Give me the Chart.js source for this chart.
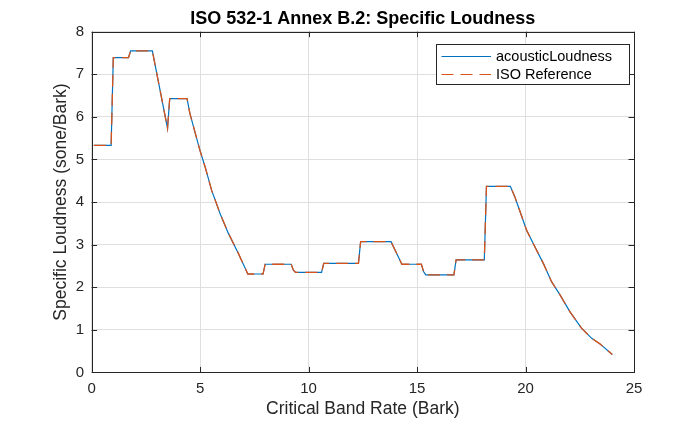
<!DOCTYPE html>
<html><head><meta charset="utf-8">
<script src="https://cdn.jsdelivr.net/npm/chart.js@4/dist/chart.umd.min.js"></script>
<style>html,body{margin:0;padding:0;background:#fff}</style>
</head><body>
<canvas id="c" width="700" height="421"></canvas>
<script>
// ---- data ----
const barkValues = [0.1, 0.9, 1.0, 1.7, 1.8, 2.8, 3.5, 3.6, 4.4, 4.53, 4.99, 5.23, 5.53, 5.92, 6.30, 6.76, 7.2, 7.9, 8.0, 9.2, 9.3, 9.4, 10.6, 10.7, 12.3, 12.4, 13.8, 14.3, 15.2, 15.3, 15.4, 16.7, 16.8, 18.1, 18.2, 19.3, 19.51, 20.05, 20.43, 20.82, 21.20, 21.59, 22.05, 22.58, 23.05, 23.43, 24.0];
const acousticLoudness = [5.33, 5.33, 7.39, 7.39, 7.55, 7.55, 5.73, 6.43, 6.43, 6.08, 5.22, 4.83, 4.28, 3.73, 3.27, 2.80, 2.31, 2.31, 2.54, 2.54, 2.40, 2.35, 2.35, 2.56, 2.56, 3.07, 3.07, 2.54, 2.54, 2.37, 2.29, 2.29, 2.64, 2.64, 4.37, 4.37, 4.12, 3.34, 2.95, 2.56, 2.13, 1.82, 1.42, 1.04, 0.80, 0.67, 0.42];
const isoReference = [5.33, 5.33, 7.39, 7.39, 7.55, 7.55, 5.73, 6.43, 6.43, 6.08, 5.22, 4.83, 4.28, 3.73, 3.27, 2.80, 2.31, 2.31, 2.54, 2.54, 2.40, 2.35, 2.35, 2.56, 2.56, 3.07, 3.07, 2.54, 2.54, 2.37, 2.29, 2.29, 2.64, 2.64, 4.37, 4.37, 4.12, 3.34, 2.95, 2.56, 2.13, 1.82, 1.42, 1.04, 0.80, 0.67, 0.42];
const xTickValues = [0, 5, 10, 15, 20, 25];
const yTickValues = [0, 1, 2, 3, 4, 5, 6, 7, 8];
const seriesNames = ['acousticLoudness', 'ISO Reference'];
const titleText = 'ISO 532-1 Annex B.2: Specific Loudness';
const xLabel = 'Critical Band Rate (Bark)';
const yLabel = 'Specific Loudness (sone/Bark)';

const FONT = '"Liberation Sans", Arial, Helvetica, sans-serif';
const AXC = '#262626';
const BLUE = '#0072BD', ORANGE = '#D95319';

const toPts = (ys) => barkValues.map((x, i) => ({x, y: ys[i]}));

const matlabDecor = {
  id: 'matlabDecor',
  beforeDatasetsDraw(chart) {
    const {ctx, chartArea: a, scales: {x, y}} = chart;
    ctx.save();
    ctx.strokeStyle = AXC; ctx.lineWidth = 1;
    const L = 5.5;
    ctx.beginPath();
    xTickValues.forEach(v => {
      const px = Math.round(x.getPixelForValue(v)) + 0.5;
      ctx.moveTo(px, a.bottom); ctx.lineTo(px, a.bottom - L);
      ctx.moveTo(px, a.top); ctx.lineTo(px, a.top + L);
    });
    yTickValues.forEach(v => {
      const py = Math.round(y.getPixelForValue(v)) + 0.5;
      ctx.moveTo(a.left, py); ctx.lineTo(a.left + L, py);
      ctx.moveTo(a.right, py); ctx.lineTo(a.right - L, py);
    });
    ctx.stroke();
    ctx.restore();
  },
  afterDraw(chart) {
    const {ctx, chartArea: a} = chart;
    ctx.save();
    // box
    ctx.strokeStyle = AXC; ctx.lineWidth = 1;
    ctx.strokeRect(Math.round(a.left) + 0.5, Math.round(a.top) + 0.5,
                   Math.round(a.right) - Math.round(a.left), Math.round(a.bottom) - Math.round(a.top));
    // title
    ctx.fillStyle = '#000';
    ctx.font = 'bold 18px ' + FONT;
    ctx.textAlign = 'center'; ctx.textBaseline = 'alphabetic';
    ctx.fillText(titleText, (a.left + a.right) / 2, 24);
    // legend
    const bx = 436.5, by = 44.5, bw = 193, bh = 40;
    ctx.fillStyle = '#fff';
    ctx.fillRect(bx, by, bw, bh);
    ctx.strokeStyle = AXC;
    ctx.strokeRect(bx, by, bw, bh);
    const rows = [56.5, 74.5];
    chart.data.datasets.forEach((ds, i) => {
      ctx.strokeStyle = ds.borderColor; ctx.lineWidth = 1;
      ctx.setLineDash(ds.borderDash || []);
      ctx.beginPath(); ctx.moveTo(441.5, rows[i]); ctx.lineTo(491, rows[i]); ctx.stroke();
      ctx.setLineDash([]);
      ctx.fillStyle = '#000';
      ctx.font = '14.5px ' + FONT;
      ctx.textAlign = 'left'; ctx.textBaseline = 'alphabetic';
      ctx.fillText(ds.label, 496, rows[i] + 4.8);
    });
    ctx.restore();
  }
};

new Chart(document.getElementById('c'), {
  type: 'line',
  data: {
    datasets: [
      {label: seriesNames[0], data: toPts(acousticLoudness), borderColor: BLUE, borderWidth: 1.2, pointRadius: 0, tension: 0, fill: false, order: 2},
      {label: seriesNames[1], data: toPts(isoReference), borderColor: ORANGE, borderWidth: 1.3, borderDash: [12, 7], pointRadius: 0, tension: 0, fill: false, order: 1}
    ]
  },
  options: {
    responsive: false,
    animation: false,
    devicePixelRatio: 1,
    layout: {padding: {left: 0, top: 31.7, right: 66, bottom: 0}},
    plugins: {legend: {display: false}, title: {display: false}, tooltip: {enabled: false}},
    scales: {
      x: {
        type: 'linear', min: 0, max: 25,
        afterBuildTicks: s => { s.ticks = xTickValues.map(v => ({value: v})); },
        afterFit: s => { s.height = 48.6; },
        grid: {color: '#dfdfdf', lineWidth: 1, drawTicks: false},
        border: {display: false},
        ticks: {color: AXC, font: {family: FONT, size: 15}, padding: 7, maxRotation: 0, autoSkip: false},
        title: {display: true, text: xLabel, color: AXC, font: {family: FONT, size: 17.5}, padding: {top: 0, bottom: 1.5}}
      },
      y: {
        type: 'linear', min: 0, max: 8,
        afterBuildTicks: s => { s.ticks = yTickValues.map(v => ({value: v})); },
        afterFit: s => { s.width = 91.6; },
        grid: {color: '#dfdfdf', lineWidth: 1, drawTicks: false},
        border: {display: false},
        ticks: {color: AXC, font: {family: FONT, size: 15}, padding: 7.5, autoSkip: false},
        title: {display: true, text: yLabel, color: AXC, font: {family: FONT, size: 17.5}, padding: {top: 50.2, bottom: 0}}
      }
    }
  },
  plugins: [matlabDecor]
});
</script>
</body></html>
